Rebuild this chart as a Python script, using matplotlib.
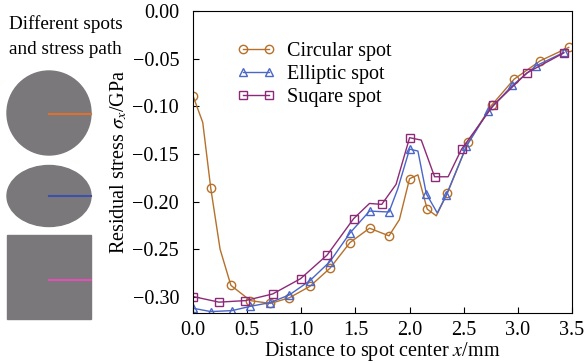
import matplotlib
matplotlib.use('Agg')
import matplotlib.pyplot as plt
from matplotlib.patches import Circle, Ellipse, Rectangle
from matplotlib.lines import Line2D

plt.rcParams['font.family'] = ['Liberation Serif', 'DejaVu Serif']
plt.rcParams['mathtext.fontset'] = 'stix'

# circular spot: all vertices, markers at a subset
circ_x = [0.0, 0.09, 0.164, 0.25, 0.35, 0.53, 0.715, 0.89, 1.08, 1.265, 1.45, 1.63,
          1.81, 1.906, 2.0, 2.077, 2.163, 2.247, 2.35, 2.54, 2.757, 2.965, 3.206, 3.47]
circ_y = [-0.089, -0.117, -0.186, -0.250, -0.288, -0.304, -0.307, -0.301, -0.289, -0.270,
          -0.243, -0.228, -0.236, -0.219, -0.176, -0.172, -0.208, -0.215, -0.191, -0.138,
          -0.099, -0.0716, -0.0523, -0.0382]
circ_marks = [0, 2, 4, 5, 6, 7, 8, 9, 10, 11, 12, 14, 16, 18, 19, 20, 21, 22, 23]

ell_x = [0.0, 0.164, 0.36, 0.53, 0.715, 0.89, 1.08, 1.265, 1.45, 1.63, 1.81, 1.89,
         2.0, 2.077, 2.155, 2.256, 2.34, 2.525, 2.727, 2.95, 3.167, 3.424]
ell_y = [-0.312, -0.3155, -0.3145, -0.310, -0.306, -0.298, -0.283, -0.263, -0.233, -0.210,
         -0.211, -0.187, -0.145, -0.147, -0.192, -0.212, -0.193, -0.142, -0.105, -0.078,
         -0.0576, -0.0435]
ell_marks = [0, 1, 2, 3, 4, 5, 6, 7, 8, 9, 10, 12, 14, 16, 17, 18, 19, 20, 21]

sq_x = [0.0, 0.24, 0.483, 0.736, 0.993, 1.24, 1.483, 1.63, 1.743, 1.875, 2.0, 2.108,
        2.231, 2.356, 2.48, 2.774, 3.083, 3.424]
sq_y = [-0.2997, -0.3056, -0.304, -0.297, -0.281, -0.256, -0.218, -0.202, -0.203, -0.182,
        -0.133, -0.1355, -0.174, -0.174, -0.145, -0.099, -0.065, -0.044]
sq_marks = [0, 1, 2, 3, 4, 5, 6, 8, 10, 12, 14, 15, 16, 17]

c_circ = '#b5702a'
c_ell = '#4a66c8'
c_sq = '#8c2a78'

W, H = 585, 363
fs = 14.5
fig = plt.figure(figsize=(W / 100, H / 100), dpi=100)

# left panel of spot shapes, drawn in pixel coordinates
lp = fig.add_axes([0, 0, 110 / W, 1])
lp.set_xlim(0, 110)
lp.set_ylim(H, 0)
lp.axis('off')
gray = '#7a787a'
lp.text(9, 24, 'Different spots', fontsize=13.8, va='center', ha='left')
lp.text(9, 50, 'and stress path', fontsize=13.8, va='center', ha='left')
lp.add_patch(Circle((49, 113), 42, color=gray))
lp.plot([49, 91], [114, 114], color='#e07030', lw=1.5)
lp.add_patch(Ellipse((49, 196), 84, 61, color=gray))
lp.plot([49, 91], [196, 196], color='#3c50b0', lw=1.5)
lp.add_patch(Rectangle((7, 235), 84, 84, color=gray))
lp.plot([49, 91], [280, 280], color='#e050b8', lw=1.5)

ax = fig.add_axes([193 / W, 50 / H, 379 / W, 302 / H])
mk = dict(markerfacecolor='none', markersize=6, markeredgewidth=1.0, lw=1.0)
ax.plot(circ_x, circ_y, color=c_circ, marker='o', markevery=circ_marks, **mk)
ax.plot(ell_x, ell_y, color=c_ell, marker='^', markevery=ell_marks, **mk)
ax.plot(sq_x, sq_y, color=c_sq, marker='s', markevery=sq_marks, **mk)

handles = [Line2D([], [], color=c_circ, marker='o', **mk),
           Line2D([], [], color=c_ell, marker='^', **mk),
           Line2D([], [], color=c_sq, marker='s', **mk)]
ax.legend(handles, ['Circular spot', 'Elliptic spot', 'Suqare spot'], loc='upper left',
          bbox_to_anchor=(0.116, 0.898), frameon=False, numpoints=2, fontsize=fs,
          handlelength=1.9, labelspacing=0.2, handletextpad=0.6, borderaxespad=0,
          borderpad=0)

ax.set_xlim(0, 3.5)
ax.set_ylim(-0.317, 0.0)
ax.set_xticks([0.0, 0.5, 1.0, 1.5, 2.0, 2.5, 3.0, 3.5])
ax.set_yticks([0.0, -0.05, -0.10, -0.15, -0.20, -0.25, -0.30])
ax.set_xticklabels(['0.0', '0.5', '1.0', '1.5', '2.0', '2.5', '3.0', '3.5'])
ax.set_yticklabels(['0.00', '\u22120.05', '\u22120.10', '\u22120.15', '\u22120.20',
                    '\u22120.25', '\u22120.30'])
ax.tick_params(direction='in', labelsize=fs, length=4, pad=6)
ax.tick_params(axis='y', pad=10)
ax.set_xlabel('Distance to spot center $\\it{x}$/mm', fontsize=fs, labelpad=0)
ax.set_ylabel('Residual stress $\\sigma_x$/GPa', fontsize=fs, labelpad=2)

fig.savefig('out.png', dpi=100)
